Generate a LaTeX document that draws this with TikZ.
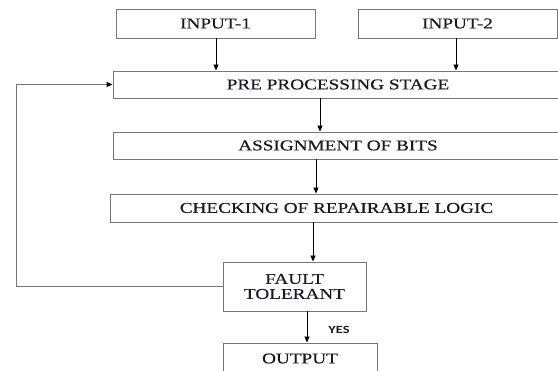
\documentclass[tikz,border=0pt]{standalone}
\usepackage{fontspec}
\setmainfont{Liberation Serif}[FakeStretch=1.28,FakeBold=0.4]
\newfontfamily\yesfont{Carlito}[FakeStretch=1.3]
\usetikzlibrary{arrows.meta}
\definecolor{boxline}{RGB}{120,120,120}
\definecolor{txt}{RGB}{25,25,35}
\tikzset{
  blk/.style={draw=boxline, line width=0.9pt, inner sep=0pt, text=txt, font=\fontsize{15}{16}\selectfont, align=center},
  arr/.style={draw=black, line width=0.9pt, -{Triangle[length=6pt,width=5pt]}},
  fbline/.style={draw=boxline, line width=0.9pt, -{Triangle[length=6pt,width=5pt,color=black]}},
}
\begin{document}
\begin{tikzpicture}[x=1pt,y=-1pt]
\useasboundingbox (0,0) rectangle (558,371);
\clip (0,0) rectangle (558,371);
\fill[white] (0,0) rectangle (558,371);
\node[blk, minimum width=199pt, minimum height=29pt] (in1) at (215.5,23.5) {INPUT-1};
\node[blk, minimum width=199pt, minimum height=29pt] (in2) at (457.5,23.5) {INPUT-2};
\node[blk, minimum width=450pt, minimum height=27pt] (pre) at (338,84.5) {PRE PROCESSING STAGE};
\node[blk, minimum width=450pt, minimum height=27pt] (asg) at (338,145.5) {ASSIGNMENT OF BITS};
\node[blk, minimum width=453pt, minimum height=28pt] (chk) at (336.5,208) {CHECKING OF REPAIRABLE LOGIC};
\node[blk, minimum width=143pt, minimum height=49pt] (ft) at (294.5,286.5) {FAULT\\[-1pt]TOLERANT};
\node[blk, minimum width=154pt, minimum height=31pt] (out) at (300,358.5) {OUTPUT};
\node[text=txt, font=\yesfont\bfseries\fontsize{11}{12}\selectfont, inner sep=0pt] (yes) at (339,330) {YES};
\coordinate (fb) at (16,0);
\draw[arr] (in1.south -| 216,0) -- (pre.north -| 216,0);
\draw[arr] (in2.south -| 456,0) -- (pre.north -| 456,0);
\draw[arr] (pre.south -| 320,0) -- (asg.north -| 320,0);
\draw[arr] (asg.south -| 316,0) -- (chk.north -| 316,0);
\draw[arr] (chk.south -| 313,0) -- (ft.north -| 313,0);
\draw[arr] (ft.south -| 307,0) -- (out.north -| 307,0);
\draw[fbline] (ft.west) -- (ft.west -| fb) |- (pre.west);
\end{tikzpicture}
\end{document}
